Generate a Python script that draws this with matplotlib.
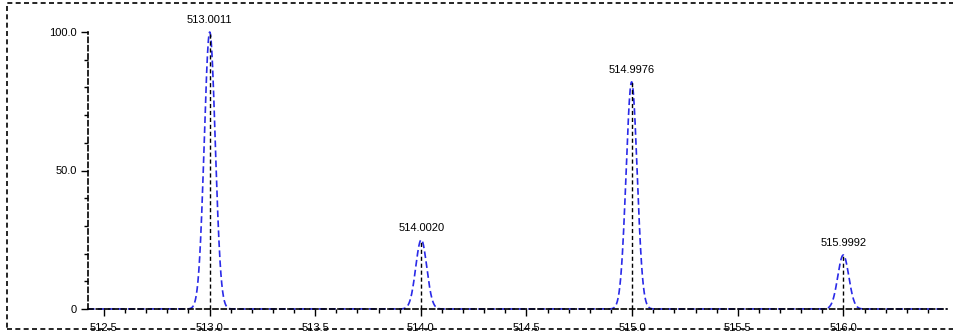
import numpy as np
import matplotlib
matplotlib.use("Agg")
import matplotlib.pyplot as plt
from matplotlib.patches import Rectangle
from matplotlib.ticker import MultipleLocator, FixedLocator, FixedFormatter

plt.rcParams["font.family"] = ["Liberation Sans", "DejaVu Sans"]

# ==========================================================
# Data: measured peaks (m/z, relative intensity)
# ==========================================================

peak_mz = [513.0011, 514.0020, 514.9976, 515.9992]
peak_int = [100.0, 25.0, 82.0, 19.5]
peak_labels = ["513.0011", "514.0020", "514.9976", "515.9992"]
peak_width = 0.026  # profile sigma (m/z)

y_ticks = [0, 50, 100]
y_tick_labels = ["0", "50.0", "100.0"]

x_min, x_max = 512.425, 516.49

# profile built from the stick list
mz_axis = np.linspace(x_min, x_max, 3000)
profile = np.zeros_like(mz_axis)
for mz, inten in zip(peak_mz, peak_int):
    profile += inten * np.exp(-0.5 * ((mz_axis - mz) / peak_width) ** 2)

# ==========================================================
# Figure
# ==========================================================

fig = plt.figure(figsize=(9.54, 3.31), dpi=100)
ax = fig.add_axes([88 / 954, 22 / 331, 859 / 954, 277 / 331])

ax.plot(mz_axis, profile, color="#2a2ae8", lw=1.2, ls=(0, (4, 2)),
        zorder=2, clip_on=False)
ax.vlines(peak_mz, 0, peak_int, color="black", lw=1.0, ls=(0, (3, 2)),
          zorder=3, clip_on=False)

for mz, inten, lab in zip(peak_mz, peak_int, peak_labels):
    ax.text(mz, inten + 2.5, lab, ha="center", va="bottom", fontsize=8,
            clip_on=False)

ax.set_xlim(x_min, x_max)
ax.set_ylim(0, 100)

ax.xaxis.set_major_locator(MultipleLocator(0.5))
ax.xaxis.set_minor_locator(MultipleLocator(0.1))
ax.xaxis.set_major_formatter(plt.FormatStrFormatter("%.1f"))
ax.yaxis.set_major_locator(FixedLocator(y_ticks))
ax.yaxis.set_major_formatter(FixedFormatter(y_tick_labels))
ax.yaxis.set_minor_locator(MultipleLocator(10))

ax.tick_params(axis="both", which="major", length=5, width=1, labelsize=8, pad=3)
ax.tick_params(axis="x", which="major", pad=5)
ax.tick_params(axis="both", which="minor", length=3, width=1)

for side in ["top", "right"]:
    ax.spines[side].set_visible(False)
for side in ["left", "bottom"]:
    ax.spines[side].set_linestyle((0, (3, 2)))
    ax.spines[side].set_linewidth(1.2)

# dashed outer frame
fig.patches.append(Rectangle((7 / 954, 2 / 331), 1.0, 326 / 331,
                             transform=fig.transFigure, fill=False,
                             lw=1.2, ls=(0, (3, 2)), ec="black"))

fig.savefig("out.png", dpi=100)
